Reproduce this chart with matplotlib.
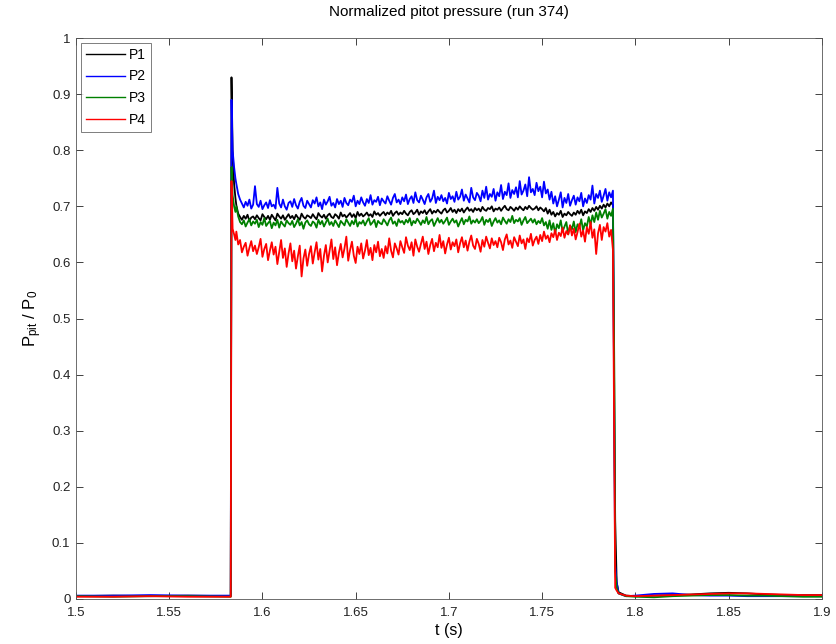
import numpy as np
import matplotlib
matplotlib.use("Agg")
import matplotlib.pyplot as plt

plt.rcParams['font.family'] = ['Liberation Sans', 'DejaVu Sans']
plt.rcParams['mathtext.default'] = 'regular'

# ---- sample times ----
t_pre = [1.500, 1.520, 1.540, 1.560, 1.5830]
t_rise = [1.5834, 1.5840, 1.5848, 1.5855]
t_plateau = np.round(np.arange(1.586, 1.7885, 0.001), 4)   # 1.586 .. 1.788
t_drop = [1.7888, 1.7892, 1.7900, 1.7910]
t_post = [1.795, 1.80, 1.81, 1.82, 1.83, 1.84, 1.85, 1.86, 1.87, 1.88, 1.89, 1.90]

# ---- P1 (black) ----
p1_pre = [0.005, 0.006, 0.005, 0.006, 0.005]
p1_rise = [0.930, 0.800, 0.740, 0.715]
p1_plateau_milli = [
    702, 687, 681, 676, 683, 678, 685, 674, 680, 682,
    677, 684, 679, 675, 686, 681, 677, 683, 676, 685,
    680, 675, 687, 682, 678, 684, 676, 681, 686, 679,
    683, 677, 685, 680, 676, 687, 681, 678, 684, 682,
    679, 686, 681, 677, 688, 683, 680, 685, 678, 684,
    687, 681, 679, 686, 683, 678, 689, 682, 685, 680,
    684, 688, 681, 686, 679, 690, 683, 687, 682, 685,
    689, 683, 686, 681, 691, 685, 688, 683, 687, 690,
    684, 689, 686, 692, 683, 688, 691, 685, 689, 686,
    692, 687, 684, 690, 693, 686, 689, 694, 685, 691,
    688, 693, 686, 691, 695, 687, 692, 689, 694, 690,
    687, 693, 696, 689, 692, 697, 690, 694, 688, 695,
    691, 696, 689, 694, 698, 692, 695, 690, 697, 693,
    696, 691, 699, 694, 692, 697, 695, 700, 691, 696,
    694, 698, 692, 697, 701, 695, 693, 699, 696, 692,
    698, 694, 700, 696, 693, 699, 695, 701, 697, 694,
    696, 700, 693, 698, 695, 691, 697, 687, 694, 685,
    690, 682, 688, 685, 692, 681, 687, 684, 690, 686,
    683, 689, 685, 692, 687, 694, 684, 691, 688, 695,
    690, 697, 692, 699, 694, 701, 696, 703, 698, 705,
    700, 707, 702]
p1_drop = [0.30, 0.14, 0.03, 0.012]
p1_post = [0.006, 0.005, 0.006, 0.007, 0.008, 0.010, 0.011, 0.010, 0.008, 0.007, 0.007, 0.007]

# ---- P2 (blue) ----
p2_pre = [0.006, 0.006, 0.007, 0.006, 0.006]
p2_rise = [0.890, 0.800, 0.770, 0.750]
p2_plateau_milli = [
    740, 722, 712, 705, 698, 708, 701, 712, 696, 703,
    736, 704, 699, 710, 695, 702, 707, 697, 711, 700,
    703, 696, 733, 705, 698, 712, 700, 694, 706, 709,
    699, 713, 702, 696, 708, 715, 701, 697, 710, 704,
    698, 711, 705, 716, 700, 707, 695, 712, 703, 709,
    717, 701, 706, 698, 713, 704, 710, 699, 715, 706,
    702, 712, 708, 719, 700, 710, 704, 716, 707, 701,
    713, 706, 720, 703, 711, 708, 717, 702, 714, 709,
    705, 718, 710, 703, 715, 722, 707, 712, 704, 716,
    709, 721, 704, 713, 718, 706, 725, 711, 707, 719,
    712, 704, 716, 722, 708, 714, 728, 706, 717, 711,
    720, 709, 715, 705, 724, 713, 718, 708, 726, 712,
    717, 730, 710, 721, 714, 707, 733, 716, 711, 724,
    719, 709, 728, 715, 735, 712, 722, 717, 731, 710,
    725, 718, 738, 713, 726, 720, 741, 715, 729, 722,
    734, 716, 745, 721, 728, 739, 718, 752, 725, 731,
    720, 742, 727, 735, 716, 744, 723, 730, 712, 726,
    705, 718, 700, 712, 725, 698, 715, 706, 722, 701,
    711, 719, 703, 716, 709, 724, 700, 714, 706, 720,
    712, 737, 705, 722, 715, 728, 708, 719, 731, 710,
    725, 716, 728]
p2_drop = [0.25, 0.06, 0.03, 0.010]
p2_post = [0.005, 0.006, 0.009, 0.010, 0.007, 0.006, 0.006, 0.005, 0.005, 0.005, 0.005, 0.005]

# ---- P3 (green) ----
p3_pre = [0.005, 0.004, 0.005, 0.005, 0.004]
p3_rise = [0.770, 0.720, 0.700, 0.690]
p3_plateau_milli = [
    700, 682, 672, 668, 675, 664, 671, 677, 666, 673,
    669, 676, 663, 672, 667, 679, 665, 670, 674, 661,
    671, 666, 676, 662, 673, 668, 664, 675, 670, 667,
    674, 663, 669, 677, 666, 672, 660, 671, 675, 668,
    665, 673, 670, 662, 676, 668, 674, 664, 671, 678,
    667, 672, 665, 675, 669, 663, 674, 670, 666, 677,
    671, 665, 674, 668, 678, 664, 672, 669, 675, 666,
    673, 679, 667, 671, 676, 663, 674, 670, 668, 677,
    672, 666, 675, 680, 669, 673, 665, 677, 671, 674,
    668, 676, 671, 679, 666, 674, 670, 678, 673, 667,
    675, 670, 681, 668, 674, 677, 665, 672, 679, 671,
    676, 669, 674, 680, 667, 673, 678, 671, 675, 664,
    672, 679, 668, 676, 673, 682, 669, 675, 671, 677,
    670, 674, 681, 667, 676, 672, 678, 665, 673, 679,
    671, 675, 668, 680, 674, 669, 677, 672, 683, 670,
    676, 673, 679, 667, 675, 681, 670, 674, 678, 671,
    677, 668, 674, 670, 679, 666, 672, 660, 675, 658,
    670, 652, 668, 661, 675, 655, 664, 672, 650, 666,
    659, 673, 654, 668, 662, 677, 657, 670, 664, 681,
    667, 684, 672, 689, 676, 692, 680, 687, 695, 678,
    690, 683, 696]
p3_drop = [0.38, 0.05, 0.02, 0.010]
p3_post = [0.005, 0.004, 0.003, 0.005, 0.006, 0.007, 0.007, 0.006, 0.006, 0.005, 0.004, 0.004]

# ---- P4 (red) ----
p4_pre = [0.004, 0.004, 0.005, 0.004, 0.004]
p4_rise = [0.745, 0.660, 0.650, 0.640]
p4_plateau_milli = [
    655, 632, 640, 618, 628, 635, 612, 626, 638, 620,
    630, 615, 627, 642, 610, 624, 633, 604, 621, 636,
    614, 628, 597, 619, 640, 608, 625, 592, 616, 634,
    602, 621, 589, 611, 630, 575, 607, 623, 594, 615,
    629, 598, 618, 636, 605, 624, 584, 612, 631, 600,
    620, 641, 606, 627, 595, 617, 633, 609, 625, 646,
    603, 622, 637, 612, 599, 628, 615, 634, 607, 621,
    640, 613, 626, 604, 631, 618, 637, 611, 624, 608,
    629, 616, 643, 621, 609, 634, 625, 614, 638, 627,
    617, 645, 630, 622, 636, 612, 641, 628, 619, 633,
    646, 624, 637, 615, 631, 642, 620, 635, 627, 649,
    626, 638, 616, 632, 644, 623, 636, 629, 641, 618,
    634, 645, 627, 639, 621, 637, 648, 630, 624, 642,
    633, 619, 640, 628, 646, 635, 625, 643, 631, 638,
    627, 644, 636, 622, 641, 650, 632, 639, 626, 645,
    637, 629, 648, 634, 641, 624, 643, 636, 651, 630,
    640, 646, 633, 649, 638, 655, 642, 648, 636, 652,
    645, 658, 640, 653, 647, 662, 644, 656, 650, 666,
    648, 660, 641, 654, 669, 646, 657, 637, 663, 651,
    672, 644, 659, 615, 652, 667, 640, 663, 655, 670,
    646, 658, 622]
p4_drop = [0.20, 0.02, 0.015, 0.010]
p4_post = [0.006, 0.005, 0.006, 0.007, 0.008, 0.009, 0.010, 0.010, 0.009, 0.008, 0.007, 0.007]

labels = ['P1', 'P2', 'P3', 'P4']
colors = ['k', 'b', (0, 0.5, 0), 'r']


def build(pre, rise, plateau_milli, drop, post):
    return np.concatenate([pre, rise, np.array(plateau_milli) / 1000.0, drop, post])


t = np.concatenate([t_pre, t_rise, t_plateau, t_drop, t_post])
series = [
    build(p1_pre, p1_rise, p1_plateau_milli, p1_drop, p1_post),
    build(p2_pre, p2_rise, p2_plateau_milli, p2_drop, p2_post),
    build(p3_pre, p3_rise, p3_plateau_milli, p3_drop, p3_post),
    build(p4_pre, p4_rise, p4_plateau_milli, p4_drop, p4_post),
]

fig = plt.figure(figsize=(8.37, 6.44), dpi=100)
ax = fig.add_axes([0.0908, 0.0699, 0.891, 0.871])

for y, c, lab in zip(series, colors, labels):
    ax.plot(t, y, color=c, linewidth=1.3, label=lab)

ax.set_xlim(1.5, 1.9)
ax.set_ylim(0, 1)
ax.set_xticks(np.arange(1.5, 1.9001, 0.05))
ax.set_xticklabels(['1.5', '1.55', '1.6', '1.65', '1.7', '1.75', '1.8', '1.85', '1.9'])
ax.set_yticks(np.arange(0, 1.0001, 0.1))
ax.set_yticklabels(['0', '0.1', '0.2', '0.3', '0.4', '0.5', '0.6', '0.7', '0.8', '0.9', '1'])
ax.tick_params(direction='in', top=True, right=True, length=5, width=0.6,
               labelsize=9.5, colors='#222222')
ax.tick_params(axis='x', pad=6)
ax.tick_params(axis='y', pad=4)
for s in ax.spines.values():
    s.set_linewidth(0.6)
    s.set_color('#555555')

ax.set_title('Normalized pitot pressure (run 374)', fontsize=11, pad=16)
ax.set_xlabel('t (s)', fontsize=11.5, labelpad=3)
ax.set_ylabel(r'P$_{pit}$ / P$_0$', fontsize=12, labelpad=6)

leg = ax.legend(loc='upper left', fontsize=10, frameon=True, fancybox=False,
                borderaxespad=0.35, handlelength=2.8, handletextpad=0.3,
                labelspacing=0.55, borderpad=0.35)
leg.get_frame().set_edgecolor('#444444')
leg.get_frame().set_linewidth(0.6)
for line in leg.get_lines():
    line.set_linewidth(1.0)

plt.savefig('out.png', dpi=100)
